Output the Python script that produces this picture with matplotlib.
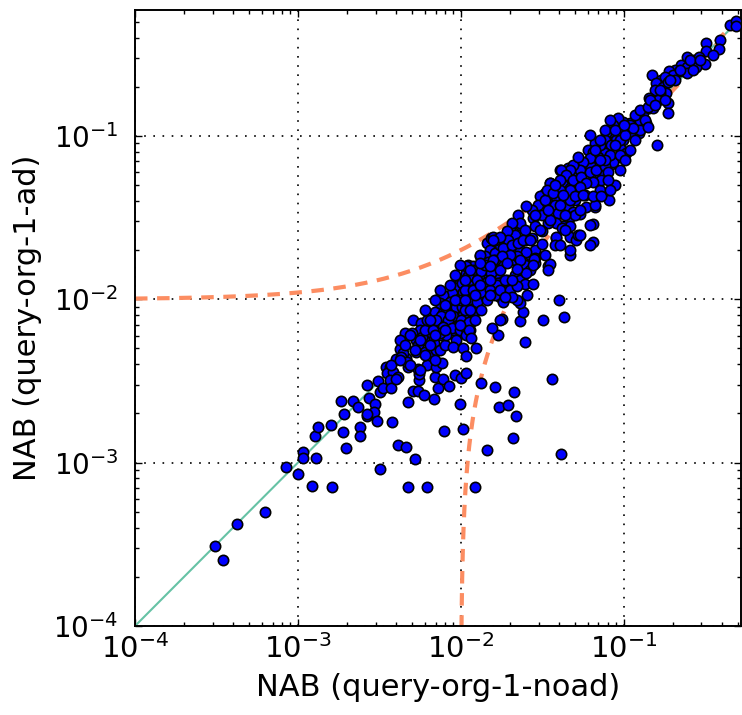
import numpy as np
import matplotlib
matplotlib.use("Agg")
import matplotlib.pyplot as plt

# (noad, ad) pairs, grouped by region
lower_tail = [
    (3.1e-4, 3.1e-4), (3.45e-4, 2.55e-4), (4.2e-4, 4.2e-4), (6.3e-4, 5.0e-4),
    (8.5e-4, 9.4e-4), (1.0e-3, 8.5e-4), (1.07e-3, 1.16e-3), (1.07e-3, 1.07e-3),
    (1.29e-3, 1.07e-3), (1.22e-3, 7.16e-4), (1.61e-3, 7.1e-4), (1.28e-3, 1.46e-3),
    (1.33e-3, 1.65e-3), (1.60e-3, 1.69e-3), (1.89e-3, 1.54e-3), (1.98e-3, 1.23e-3),
    (1.83e-3, 2.39e-3), (2.17e-3, 2.39e-3), (1.92e-3, 1.99e-3), (2.33e-3, 2.18e-3),
    (2.39e-3, 1.66e-3), (2.39e-3, 1.46e-3), (2.65e-3, 1.94e-3), (2.67e-3, 3.0e-3),
    (2.75e-3, 2.48e-3), (2.97e-3, 2.29e-3), (2.92e-3, 2.04e-3), (2.64e-3, 1.98e-3),
    (3.2e-3, 9.11e-4), (3.08e-3, 1.81e-3), (3.79e-3, 1.78e-3),
]

mid_band = [
    (3.11e-3, 3.15e-3), (3.18e-3, 2.70e-3), (3.31e-3, 2.88e-3), (3.45e-3, 3.84e-3),
    (3.67e-3, 3.87e-3), (3.50e-3, 3.53e-3), (3.85e-3, 3.61e-3), (3.67e-3, 3.21e-3),
    (4.09e-3, 3.36e-3), (4.23e-3, 4.95e-3), (4.03e-3, 4.30e-3), (4.60e-3, 4.36e-3),
    (4.71e-3, 3.87e-3), (4.39e-3, 4.72e-3), (3.73e-3, 2.85e-3), (4.03e-3, 3.24e-3),
    (4.77e-3, 2.36e-3), (5.1e-3, 2.75e-3), (5.47e-3, 2.75e-3), (5.95e-3, 2.6e-3),
    (5.55e-3, 3.21e-3), (5.55e-3, 3.49e-3), (5.5e-3, 3.73e-3), (6.21e-3, 3.95e-3),
    (6.92e-3, 3.36e-3), (7.05e-3, 3.87e-3), (7.26e-3, 2.88e-3), (7.72e-3, 4.1e-3),
    (7.78e-3, 3.26e-3), (8.43e-3, 2.96e-3), (9.23e-3, 3.43e-3), (9.86e-3, 2.29e-3),
    (6.89e-3, 2.45e-3), (3.72e-3, 3.96e-3), (4.29e-3, 4.42e-3), (4.68e-3, 4.15e-3),
    (5.07e-3, 7.48e-3), (5.66e-3, 7.2e-3), (5.6e-3, 6.5e-3), (4.53e-3, 6.2e-3),
    (5.02e-3, 6.2e-3), (5.3e-3, 5.64e-3), (5.45e-3, 5.26e-3), (5.3e-3, 4.79e-3),
    (6.07e-3, 4.79e-3), (6.57e-3, 4.79e-3), (7.03e-3, 4.9e-3), (6.86e-3, 5.38e-3),
    (6.34e-3, 5.64e-3), (7.03e-3, 6.2e-3), (6.1e-3, 6.2e-3), (6.45e-3, 6.65e-3),
    (6.64e-3, 7.14e-3), (5.93e-3, 5.64e-3), (5.74e-3, 5.91e-3), (6.01e-3, 6.5e-3),
    (6.16e-3, 7.48e-3),
    (4.23e-3, 5.64e-3), (4.53e-3, 5.26e-3), (4.86e-3, 6.05e-3), (5.22e-3, 4.9e-3),
    (5.6e-3, 5.64e-3), (6.01e-3, 4.57e-3), (6.45e-3, 5.26e-3), (6.92e-3, 4.26e-3),
    (7.43e-3, 4.9e-3), (4.86e-3, 3.97e-3), (4.23e-3, 4.26e-3), (5.6e-3, 3.7e-3),
    (7.43e-3, 6.05e-3), (7.98e-3, 5.26e-3),
]

core = [
    (6.92e-3, 8.41e-3), (7.61e-3, 1.06e-2), (7.61e-3, 9.68e-3), (8.57e-3, 1.04e-2),
    (8.48e-3, 9.24e-3), (7.78e-3, 8.22e-3), (8.17e-3, 7.77e-3), (8.57e-3, 8.22e-3),
    (7.72e-3, 7.2e-3), (8.97e-3, 7.77e-3), (9.62e-3, 7.66e-3), (9.3e-3, 8.69e-3),
    (9.62e-3, 6.8e-3), (9.78e-3, 6.34e-3), (8.97e-3, 6.5e-3), (8.36e-3, 6.8e-3),
    (9.19e-3, 1.22e-2), (9.19e-3, 1.09e-2), (9.86e-3, 1.26e-2), (9.4e-3, 1.17e-2),
    (8.77e-3, 1.09e-2), (9.86e-3, 1.02e-2), (7.78e-3, 1.06e-2), (8.57e-3, 9.68e-3),
    (9.4e-3, 9.02e-3), (7.43e-3, 9.46e-3), (8.17e-3, 8.41e-3), (8.97e-3, 7.9e-3),
    (7.61e-3, 7.9e-3), (8.36e-3, 7.48e-3), (7.09e-3, 7.48e-3), (7.78e-3, 6.8e-3),
    (8.77e-3, 6.65e-3), (9.86e-3, 6.5e-3), (8.17e-3, 6.05e-3), (7.43e-3, 6.2e-3),
    (6.76e-3, 6.5e-3), (9.4e-3, 5.64e-3), (8.97e-3, 5.13e-3),
    (1.02e-2, 8.95e-3), (1.03e-2, 8.02e-3), (1.06e-2, 6.8e-3), (1.16e-2, 7.3e-3),
    (1.14e-2, 6.5e-3), (1.02e-2, 1.26e-2), (1.14e-2, 1.31e-2), (1.03e-2, 1.11e-2),
    (1.16e-2, 1.14e-2), (1.28e-2, 1.17e-2), (1.31e-2, 1.04e-2), (1.22e-2, 9.91e-3),
    (1.11e-2, 9.91e-3), (1.01e-2, 9.91e-3), (1.11e-2, 1.63e-2), (1.19e-2, 1.59e-2),
    (1.31e-2, 1.83e-2), (1.4e-2, 1.70e-2), (1.34e-2, 1.51e-2), (1.47e-2, 1.38e-2),
    (1.44e-2, 1.51e-2), (1.58e-2, 1.59e-2), (1.66e-2, 1.44e-2), (1.54e-2, 1.28e-2),
    (1.4e-2, 1.22e-2), (1.69e-2, 1.26e-2), (1.62e-2, 1.17e-2), (1.51e-2, 1.09e-2),
    (1.37e-2, 1.11e-2), (1.73e-2, 1.04e-2), (1.82e-2, 9.68e-3), (1.78e-2, 7.55e-3),
    (1.69e-2, 6.05e-3), (1.91e-2, 1.14e-2), (1.91e-2, 1.31e-2), (1.78e-2, 1.66e-2),
    (1.62e-2, 2.0e-2), (1.44e-2, 2.2e-2), (1.54e-2, 2.37e-2), (1.73e-2, 2.06e-2),
    (1.86e-2, 2.2e-2), (1.91e-2, 1.83e-2), (1.19e-2, 7.66e-3), (1.08e-2, 1.44e-2),
    (1.19e-2, 1.38e-2), (1.31e-2, 1.31e-2),
    (1.58e-2, 2.42e-2), (1.69e-2, 2.2e-2), (1.51e-2, 2.0e-2), (1.62e-2, 1.92e-2),
    (1.4e-2, 1.83e-2), (1.47e-2, 1.7e-2), (1.66e-2, 1.66e-2), (1.19e-2, 1.51e-2),
    (1.34e-2, 1.48e-2), (1.54e-2, 1.44e-2), (1.08e-2, 1.59e-2), (1.11e-2, 1.38e-2),
    (1.25e-2, 1.31e-2), (1.44e-2, 1.28e-2), (1.66e-2, 1.22e-2), (1.06e-2, 1.14e-2),
    (1.19e-2, 1.14e-2), (1.34e-2, 1.11e-2), (1.51e-2, 1.14e-2), (1.25e-2, 9.68e-3),
    (1.44e-2, 9.91e-3), (1.62e-2, 1.06e-2), (1.06e-2, 8.61e-3), (1.19e-2, 8.41e-3),
    (1.34e-2, 8.61e-3), (1.01e-2, 7.48e-3), (1.13e-2, 7.3e-3), (1.08e-2, 6.05e-3),
    (1.03e-2, 5.0e-3), (1.13e-2, 6.5e-3), (1.16e-2, 5.78e-3),
    (6.01e-3, 8.61e-3), (6.45e-3, 7.48e-3), (6.92e-3, 9.92e-3), (7.43e-3, 1.14e-2),
    (7.98e-3, 9.24e-3), (8.56e-3, 1.22e-2), (9.19e-3, 1.41e-2), (9.86e-3, 1.62e-2),
    (1.06e-2, 1.31e-2), (1.14e-2, 1.51e-2), (9.19e-3, 9.92e-3), (8.56e-3, 8.03e-3),
    (1.06e-2, 9.92e-3), (1.14e-2, 8.61e-3), (9.86e-3, 6.97e-3), (7.98e-3, 6.49e-3),
    (6.92e-3, 6.05e-3), (1.22e-2, 1.06e-2), (1.31e-2, 1.22e-2), (1.22e-2, 7.48e-3),
    (1.74e-2, 2.15e-2), (1.86e-2, 1.87e-2), (2.14e-2, 1.74e-2), (2.30e-2, 2.01e-2),
    (2.47e-2, 2.31e-2), (2.65e-2, 1.87e-2), (2.47e-2, 1.62e-2), (2.14e-2, 1.41e-2),
    (1.86e-2, 1.31e-2), (1.74e-2, 1.51e-2), (1.62e-2, 1.74e-2), (1.51e-2, 1.31e-2),
    (1.40e-2, 1.62e-2), (1.31e-2, 1.87e-2), (1.62e-2, 2.31e-2), (2.0e-2, 2.66e-2),
    (2.30e-2, 2.86e-2), (1.74e-2, 1.14e-2), (2.0e-2, 1.14e-2), (1.51e-2, 1.06e-2),
    (2.30e-2, 1.31e-2), (2.65e-2, 1.51e-2), (2.84e-2, 2.01e-2),
]

upper_band = [
    (4.05e-2, 6.2e-2), (4.55e-2, 6.35e-2), (4.89e-2, 6.5e-2), (5.0e-2, 5.78e-2),
    (4.45e-2, 5.64e-2), (4.77e-2, 5.26e-2), (4.25e-2, 5.02e-2), (4.67e-2, 4.79e-2),
    (5.13e-2, 4.57e-2), (5.0e-2, 4.06e-2), (4.45e-2, 4.36e-2), (4.05e-2, 4.57e-2),
    (3.78e-2, 4.26e-2), (3.52e-2, 5.14e-2), (3.27e-2, 4.46e-2), (3.05e-2, 4.26e-2),
    (2.98e-2, 3.78e-2), (3.36e-2, 3.96e-2), (3.78e-2, 3.78e-2), (3.95e-2, 3.37e-2),
    (4.55e-2, 3.7e-2), (4.89e-2, 3.44e-2), (4.67e-2, 3.21e-2), (4.25e-2, 2.79e-2),
    (3.86e-2, 2.92e-2), (3.43e-2, 2.92e-2), (3.13e-2, 3.29e-2), (2.78e-2, 3.14e-2),
    (2.84e-2, 2.79e-2), (3.13e-2, 2.6e-2), (2.72e-2, 3.53e-2), (2.5e-2, 3.7e-2),
    (2.25e-2, 3.29e-2), (2.3e-2, 2.92e-2), (2.47e-2, 2.66e-2), (2.05e-2, 2.92e-2),
    (2.14e-2, 2.48e-2), (1.91e-2, 2.6e-2), (1.95e-2, 2.31e-2), (1.73e-2, 2.42e-2),
    (1.58e-2, 2.31e-2), (1.82e-2, 2.06e-2), (2.05e-2, 2.15e-2), (2.25e-2, 2.2e-2),
    (2.41e-2, 2.31e-2), (2.72e-2, 2.37e-2), (2.53e-2, 1.96e-2), (2.2e-2, 1.83e-2),
    (2.0e-2, 1.87e-2), (1.78e-2, 1.83e-2), (1.58e-2, 1.74e-2), (1.31e-2, 1.66e-2),
    (1.51e-2, 1.59e-2), (1.91e-2, 1.66e-2), (2.3e-2, 1.74e-2), (2.84e-2, 1.79e-2),
    (2.84e-2, 1.66e-2), (3.43e-2, 1.59e-2), (3.86e-2, 2.37e-2), (4.67e-2, 2.42e-2),
    (5.13e-2, 2.31e-2), (4.67e-2, 1.87e-2),
    (8.13e-2, 4.06e-2), (6.67e-2, 3.65e-2), (5.9e-2, 3.65e-2), (5.37e-2, 3.32e-2),
    (5.0e-2, 3.29e-2), (4.67e-2, 2.79e-2), (4.2e-2, 2.75e-2), (3.86e-2, 2.39e-2),
    (3.13e-2, 2.17e-2), (6.49e-2, 2.25e-2), (6.49e-2, 2.9e-2), (5.25e-2, 2.46e-2),
    (3.99e-2, 9.91e-3), (3.52e-2, 1.65e-2), (3.43e-2, 1.51e-2), (2.82e-2, 1.76e-2),
    (2.78e-2, 1.61e-2), (2.53e-2, 1.44e-2), (2.49e-2, 1.24e-2), (2.78e-2, 1.24e-2),
    (2.2e-2, 1.53e-2), (2.2e-2, 1.2e-2), (2.56e-2, 1.06e-2), (3.2e-2, 7.48e-3),
    (4.29e-2, 7.77e-3), (2.3e-2, 7.41e-3), (2.41e-2, 8.41e-3), (1.75e-2, 7.48e-3),
    (1.56e-2, 6.71e-3), (2.32e-2, 9.46e-3), (2.2e-2, 9.91e-3), (2.05e-2, 1.04e-2),
    (1.86e-2, 1.04e-2), (2.05e-2, 1.31e-2),
    (3.05e-2, 2.66e-2), (3.52e-2, 3.06e-2), (3.77e-2, 2.15e-2), (4.35e-2, 2.66e-2),
    (5.37e-2, 2.48e-2), (6.18e-2, 2.86e-2), (6.64e-2, 3.79e-2), (5.76e-2, 4.36e-2),
    (4.05e-2, 3.79e-2), (3.28e-2, 4.06e-2), (4.66e-2, 2.01e-2), (6.18e-2, 2.15e-2),
    (7.13e-2, 4.68e-2), (8.81e-2, 5.02e-2), (9.45e-2, 6.2e-2), (8.21e-2, 6.65e-2),
    (7.13e-2, 5.78e-2), (6.18e-2, 6.65e-2), (3.42e-2, 3.53e-2), (3.77e-2, 4.68e-2),
    (4.66e-2, 4.06e-2), (5.37e-2, 3.53e-2), (4.35e-2, 3.29e-2), (2.84e-2, 3.29e-2),
    (2.65e-2, 2.31e-2), (3.28e-2, 1.87e-2), (4.05e-2, 2.15e-2),
]

high_band = [
    (0.131, 0.138), (0.144, 0.148), (0.138, 0.12), (0.125, 0.126), (0.114, 0.109),
    (0.125, 0.104), (0.109, 0.12), (0.099, 0.122), (0.0923, 0.128), (0.0859, 0.117),
    (0.084, 0.106), (0.0783, 0.104), (0.0764, 0.0946), (0.0902, 0.0946), (0.099, 0.0946),
    (0.109, 0.104), (0.099, 0.112), (0.084, 0.0882), (0.0944, 0.0842), (0.104, 0.0785),
    (0.0944, 0.0748), (0.0859, 0.0697), (0.0764, 0.0785), (0.0713, 0.0882),
    (0.0664, 0.0903), (0.0618, 0.102), (0.0604, 0.0822), (0.0649, 0.0802),
    (0.0695, 0.0748), (0.0618, 0.0731), (0.0562, 0.0697), (0.0537, 0.062),
    (0.0489, 0.0665), (0.0467, 0.062), (0.0525, 0.0748), (0.0415, 0.062),
    (0.0445, 0.0578), (0.0489, 0.0538), (0.055, 0.0564), (0.0618, 0.0605),
    (0.0679, 0.062), (0.0764, 0.065), (0.0801, 0.0605), (0.073, 0.0538),
    (0.0801, 0.0538), (0.0649, 0.0526), (0.059, 0.0514), (0.0537, 0.049),
    (0.0467, 0.0468), (0.0405, 0.0468), (0.0352, 0.0514), (0.0336, 0.0468),
    (0.0368, 0.0446), (0.0425, 0.0436), (0.05, 0.0426), (0.0562, 0.0436),
    (0.0649, 0.0426), (0.073, 0.0426), (0.082, 0.0468), (0.0405, 0.0538),
    (0.0378, 0.0502),
    (0.0664, 0.0822), (0.0713, 0.0946), (0.0764, 0.109), (0.0821, 0.1255),
    (0.0881, 0.109), (0.0945, 0.0946), (0.1014, 0.1016), (0.1088, 0.117),
    (0.1168, 0.1346), (0.1253, 0.109), (0.1345, 0.1255), (0.1253, 0.1444),
    (0.0821, 0.0766), (0.0764, 0.0714), (0.0945, 0.0766), (0.0713, 0.0714),
    (0.1014, 0.0714), (0.1088, 0.0822), (0.1168, 0.0946), (0.0881, 0.0882),
]

top_tail = [
    (0.447, 0.479), (0.486, 0.502), (0.49, 0.472), (0.321, 0.37), (0.392, 0.384),
    (0.318, 0.329), (0.385, 0.34), (0.353, 0.314), (0.245, 0.306), (0.266, 0.292),
    (0.29, 0.304), (0.314, 0.276), (0.226, 0.272), (0.243, 0.266), (0.279, 0.266),
    (0.206, 0.254), (0.221, 0.248), (0.245, 0.242), (0.266, 0.254), (0.191, 0.248),
    (0.2, 0.237), (0.15, 0.237), (0.17, 0.22), (0.158, 0.21), (0.179, 0.229),
    (0.174, 0.199), (0.187, 0.215), (0.206, 0.22), (0.181, 0.183), (0.166, 0.183),
    (0.155, 0.191), (0.144, 0.17), (0.162, 0.166), (0.151, 0.148), (0.141, 0.151),
    (0.187, 0.159), (0.187, 0.138), (0.161, 0.0877), (0.114, 0.112), (0.141, 0.114),
    (0.1, 0.117),
    (0.1444, 0.1664), (0.155, 0.155), (0.1663, 0.1916), (0.1784, 0.1664),
    (0.1915, 0.2206), (0.2206, 0.254), (0.2541, 0.2924), (0.2926, 0.2924),
]

below_diag = [
    (2.47e-2, 5.48e-3), (3.62e-2, 3.26e-3), (4.12e-2, 1.13e-3), (2.12e-2, 2.7e-3),
    (1.62e-2, 2.9e-3), (1.72e-2, 2.18e-3), (1.95e-2, 2.26e-3), (2.17e-2, 1.92e-3),
    (2.09e-2, 1.42e-3), (1.44e-2, 1.19e-3), (1.03e-2, 1.61e-3), (1.22e-2, 7.13e-4),
    (1.0e-2, 3.31e-3), (1.24e-2, 5.0e-3), (1.07e-2, 4.5e-3), (1.33e-2, 3.09e-3),
    (1.07e-2, 3.53e-3), (4.09e-3, 1.29e-3), (4.62e-3, 1.25e-3), (4.73e-3, 7.07e-4),
    (6.16e-3, 7.07e-4), (5.22e-3, 1.05e-3), (7.87e-3, 1.56e-3),
]

groups = [lower_tail, mid_band, core, upper_band, high_band, top_tail, below_diag]
noad = np.array([p[0] for g in groups for p in g])
ad = np.array([p[1] for g in groups for p in g])

offset = 0.01
xmin, xmax = 1e-4, 0.525
ymin, ymax = 1e-4, 0.59

fig = plt.figure(figsize=(7.42, 7.15), dpi=100)
ax = fig.add_axes([135 / 742, 1 - 626 / 715, 606 / 742, 616 / 715])
ax.set_xscale('log')
ax.set_yscale('log')

# guide lines: y = x and y = x +/- offset
diag = np.logspace(-4, np.log10(xmax), 400)
ax.plot(diag, diag, color='#66c2a5', lw=1.5, zorder=2)
ax.plot(diag, diag + offset, color='#fc8d62', lw=3, ls=(0, (3, 2.3)), zorder=2)
xs = offset + np.logspace(-8, np.log10(xmax - offset), 400)
ax.plot(xs, xs - offset, color='#fc8d62', lw=3, ls=(0, (3, 2.3)), zorder=2)

ax.scatter(noad, ad, s=55, c='blue', edgecolors='black', linewidths=1.2, zorder=3)

ax.set_xlim(xmin, xmax)
ax.set_ylim(ymin, ymax)
ax.grid(True, which='major', color='k', linestyle=(0, (1, 4.5)), linewidth=1.2, zorder=0)
ax.set_axisbelow(True)

ticks = [1e-4, 1e-3, 1e-2, 1e-1]
labels = ['$10^{-4}$', '$10^{-3}$', '$10^{-2}$', '$10^{-1}$']
ax.set_xticks(ticks)
ax.set_xticklabels(labels, fontsize=21)
ax.set_yticks(ticks)
ax.set_yticklabels(labels, fontsize=20)
ax.tick_params(which='both', direction='in', top=True, right=True, width=1)
ax.tick_params(which='major', length=5)
ax.tick_params(which='minor', length=2.8)
ax.tick_params(axis='x', pad=6)
ax.tick_params(axis='y', pad=12)
for sp in ax.spines.values():
    sp.set_linewidth(1.4)

ax.set_xlabel('NAB (query-org-1-noad)', fontsize=22, labelpad=6)
ax.set_ylabel('NAB (query-org-1-ad)', fontsize=22, labelpad=8)

fig.savefig('out.png', dpi=100)
